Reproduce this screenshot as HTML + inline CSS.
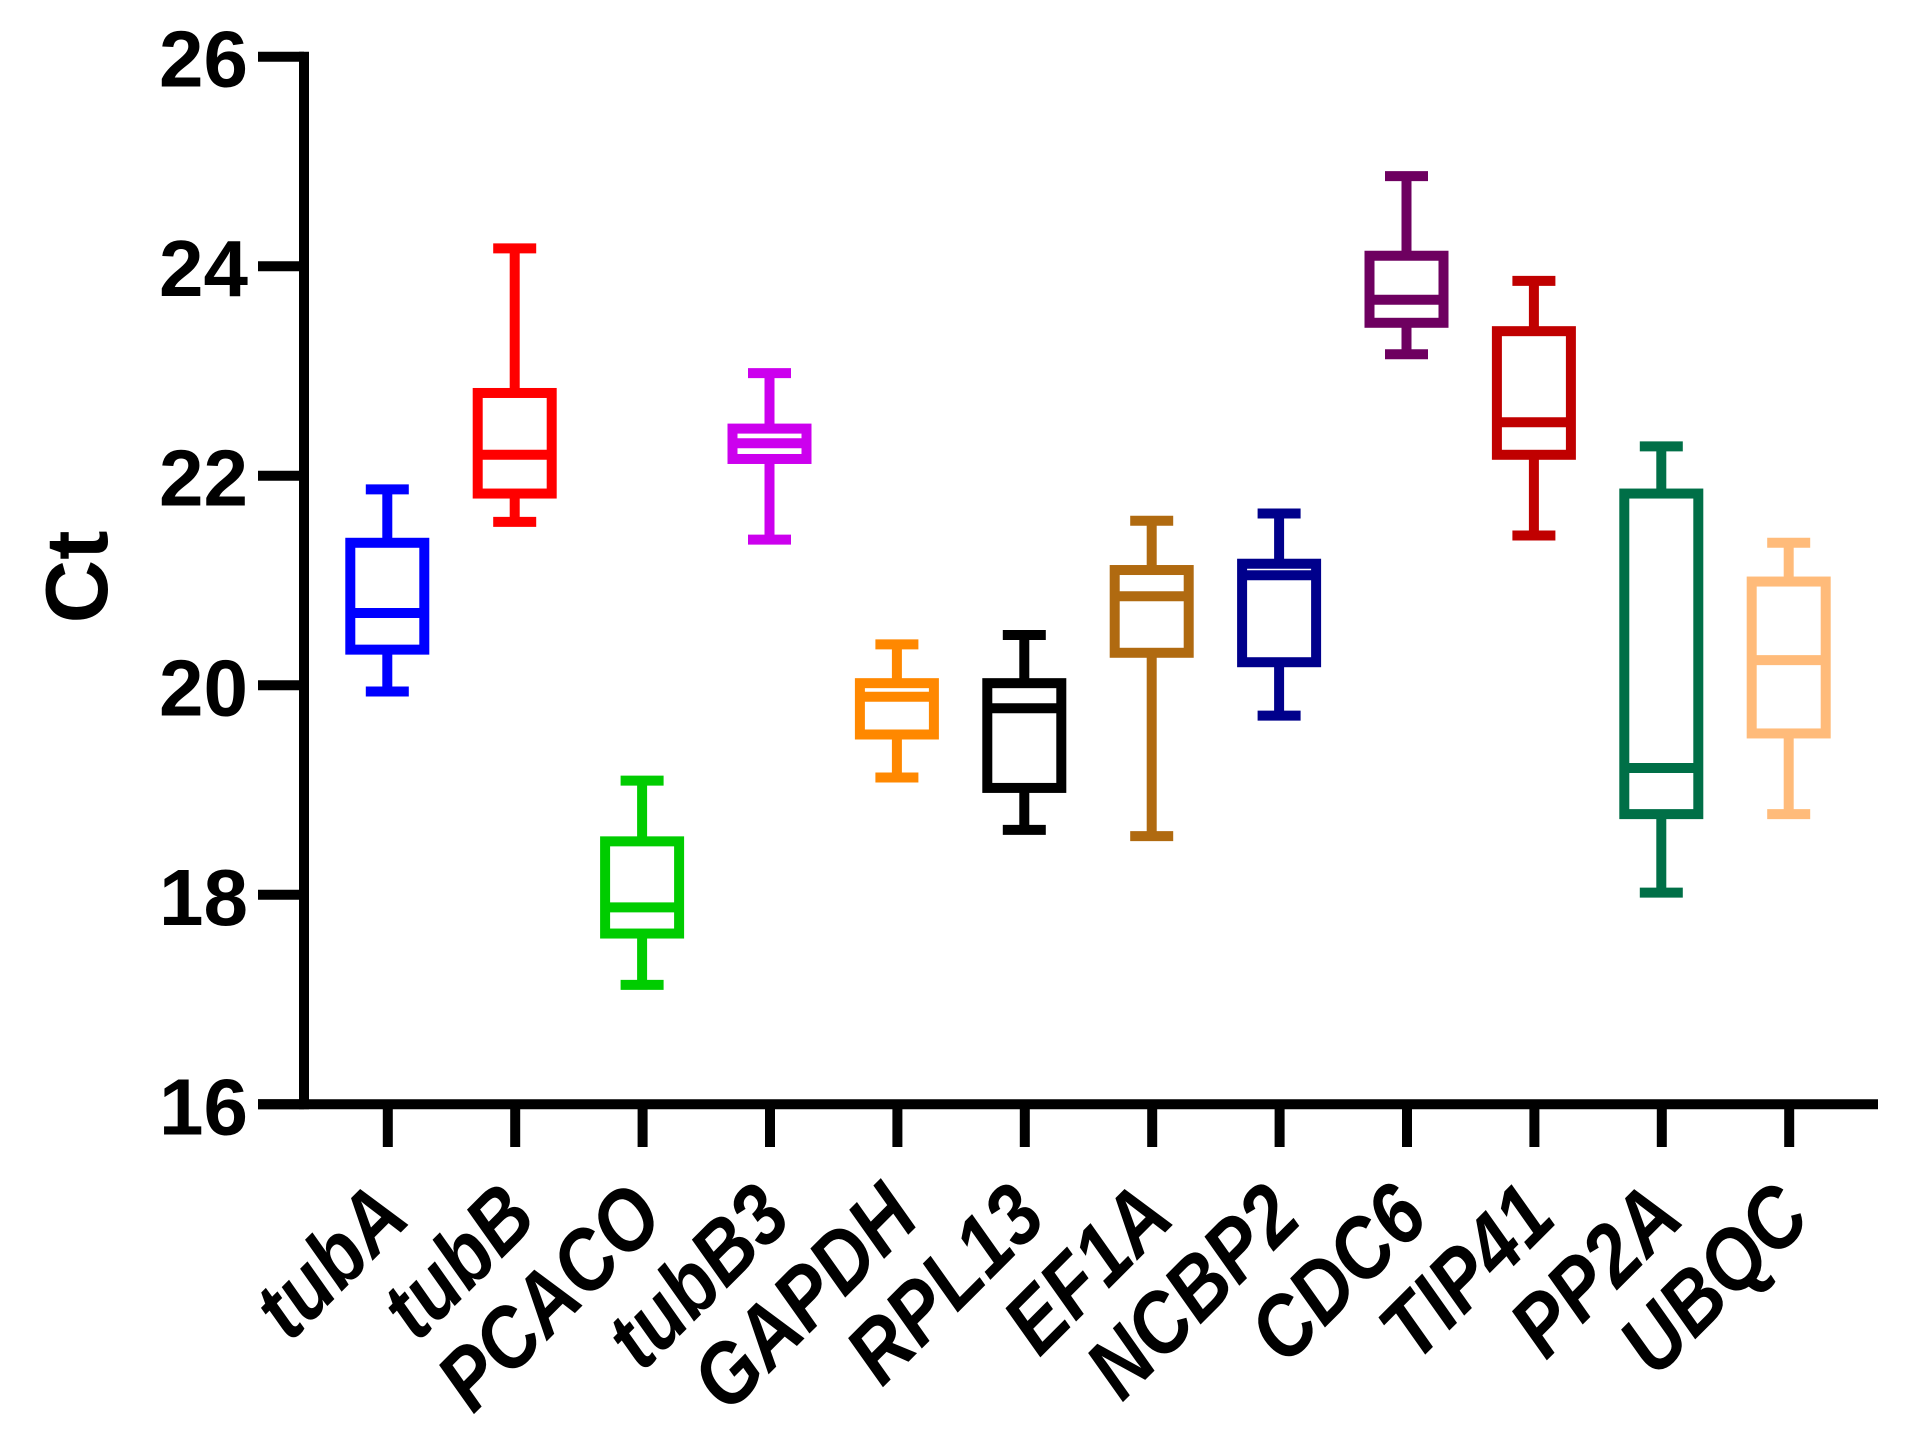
<!DOCTYPE html>
<html>
<head>
<meta charset="utf-8">
<style>
html,body{margin:0;padding:0;background:#fff;}
svg{display:block;}
text{font-family:"Liberation Sans",sans-serif;font-weight:bold;fill:#000;}
</style>
</head>
<body>
<svg id="chart" width="1920" height="1454" viewBox="0 0 1920 1454" xmlns="http://www.w3.org/2000/svg">
<rect width="1920" height="1454" fill="#ffffff"/>
</svg>
<script>
const categories = ['tubA','tubB','PCACO','tubB3','GAPDH','RPL13','EF1A','NCBP2','CDC6','TIP41','PP2A','UBQC'];
const whiskerHigh = [21.87,24.17,19.09,22.98,20.39,20.48,21.57,21.64,24.86,23.86,22.28,21.36];
const q3Values    = [21.36,22.79,18.51,22.45,20.02,20.02,21.10,21.16,24.10,23.38,21.83,20.99];
const medians     = [20.69,22.20,17.88,22.31,19.89,19.78,20.85,21.05,23.68,22.51,19.21,20.24];
const q1Values    = [20.34,21.83,17.63,22.16,19.53,19.02,20.31,20.22,23.46,22.20,18.77,19.54];
const whiskerLow  = [19.94,21.56,17.14,21.39,19.12,18.62,18.56,19.71,23.16,21.43,18.02,18.77];
const yTickValues = [16,18,20,22,24,26];
const seriesColors = ['#0000ff','#ff0000','#00cc00','#cc00ee','#ff8800','#000000','#b06a10','#00008b','#6e0060','#c00000','#006f47','#ffbb7a'];

const NS = 'http://www.w3.org/2000/svg';
const svg = document.getElementById('chart');
const STROKE = 10;
const Y16 = 1104.3, PX_PER_UNIT = 104.76;
const X0 = 387.3, X_STEP = 127.4;
const yScale = function (v) { return Y16 - (v - 16) * PX_PER_UNIT; };
const xScale = function (i) { return X0 + i * X_STEP; };

function make(tag, attrs, parent) {
  const el = document.createElementNS(NS, tag);
  for (const k in attrs) el.setAttribute(k, attrs[k]);
  (parent || svg).appendChild(el);
  return el;
}
function seg(x1, y1, x2, y2, color, parent) {
  return make('line', {x1: x1, y1: y1, x2: x2, y2: y2, stroke: color, 'stroke-width': STROKE}, parent);
}

/* Y axis */
const yAxisLine = seg(304, yScale(26) - 5, 304, yScale(16) + 5, '#000');



yTickValues.forEach(function (v) {
  const y = yScale(v);
  const tick = seg(258, y, 304, y, '#000');
  
  
  const label = make('text', {x: 248, y: y + 30, 'text-anchor': 'end', 'font-size': 80});
  label.textContent = String(v);
  
  
});

/* Y axis title */
const yTitle = make('text', {transform: 'translate(107,577) rotate(-90)', 'text-anchor': 'middle', 'font-size': 88});
yTitle.textContent = 'Ct';



/* X axis */
const xAxisLine = seg(258, yScale(16), 1878, yScale(16), '#000');



categories.forEach(function (name, i) {
  const x = xScale(i);
  const tick = seg(x + 0.5, yScale(16), x + 0.5, 1147, '#000');
  
  
  const label = make('text', {
    transform: 'translate(' + (x + 25) + ',1221) rotate(-45) scale(0.95,1.08)',
    'text-anchor': 'end', 'font-size': 80, 'font-style': 'italic'
  });
  label.textContent = name;
  
  
});

/* Box plots */
const BOX_HALF = 37, CAP_HALF = 21.5;
categories.forEach(function (name, i) {
  const x = xScale(i), c = seriesColors[i];
  const yHi = yScale(whiskerHigh[i]), yQ3 = yScale(q3Values[i]);
  const yMed = yScale(medians[i]), yQ1 = yScale(q1Values[i]), yLo = yScale(whiskerLow[i]);

  const g = make('g', {});
  
  

  const upper = seg(x, yHi, x, yQ3, c, g);
  
  

  const lower = seg(x, yQ1, x, yLo, c, g);
  
  

  const capTop = seg(x - CAP_HALF, yHi, x + CAP_HALF, yHi, c, g);
  
  

  const capBot = seg(x - CAP_HALF, yLo, x + CAP_HALF, yLo, c, g);
  
  

  const box = make('rect', {
    x: x - BOX_HALF, y: yQ3, width: BOX_HALF * 2, height: yQ1 - yQ3,
    fill: 'none', stroke: c, 'stroke-width': STROKE
  }, g);
  
  

  const med = seg(x - BOX_HALF, yMed, x + BOX_HALF, yMed, c, g);
  
  
});
</script>
</body>
</html>
